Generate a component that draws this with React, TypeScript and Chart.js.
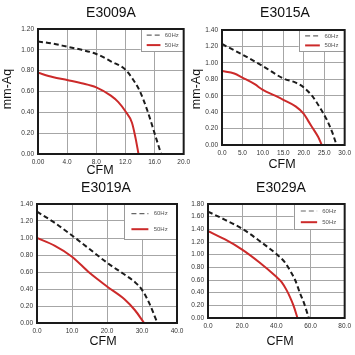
import React, { useEffect, useRef } from "react";
import { Chart, registerables } from "chart.js";

Chart.register(...registerables);

// ---------- data ----------
const E3009A_CFM_60 = [0, 2, 4, 6, 8, 10, 12, 13, 14, 15, 16, 16.9];
const E3009A_AQ_60 = [1.08, 1.06, 1.03, 1.0, 0.96, 0.89, 0.81, 0.72, 0.6, 0.42, 0.2, 0];
const E3009A_CFM_50 = [0, 2, 4, 6, 8, 10, 11, 12, 12.9, 13.4, 13.8];
const E3009A_AQ_50 = [0.78, 0.74, 0.71, 0.68, 0.64, 0.56, 0.5, 0.41, 0.3, 0.15, 0];
const E3009A_X_TICKS = ["0.00", "4.0", "8.0", "12.0", "16.0", "20.0"];
const E3009A_Y_TICKS = ["0.00", "0.20", "0.40", "0.60", "0.80", "1.00", "1.20"];

const E3015A_CFM_60 = [0, 5, 10, 15, 18, 20, 22, 24, 25.5, 27, 28];
const E3015A_AQ_60 = [1.23, 1.1, 0.96, 0.81, 0.76, 0.7, 0.6, 0.45, 0.32, 0.15, 0];
const E3015A_CFM_50 = [0, 3, 5, 8, 10, 13, 15, 18, 20, 21, 22, 23.5, 24.4];
const E3015A_AQ_50 = [0.9, 0.87, 0.82, 0.74, 0.67, 0.6, 0.55, 0.47, 0.38, 0.3, 0.22, 0.1, 0];
const E3015A_X_TICKS = ["0.0", "5.0", "10.0", "15.0", "20.0", "25.0", "30.0"];
const E3015A_Y_TICKS = ["0.00", "0.20", "0.40", "0.60", "0.80", "1.00", "1.20", "1.40"];

const E3019A_CFM_60 = [0, 5, 10, 15, 20, 25, 28, 30, 32, 34.4];
const E3019A_AQ_60 = [1.31, 1.18, 1.03, 0.87, 0.71, 0.57, 0.48, 0.39, 0.24, 0];
const E3019A_CFM_50 = [0, 5, 10, 15, 20, 25, 28, 30.6];
const E3019A_AQ_50 = [1.0, 0.91, 0.78, 0.59, 0.43, 0.28, 0.15, 0];
const E3019A_X_TICKS = ["0.0", "10.0", "20.0", "30.0", "40.0"];
const E3019A_Y_TICKS = ["0.00", "0.20", "0.40", "0.60", "0.80", "1.00", "1.20", "1.40"];

const E3029A_CFM_60 = [0, 10, 20, 30, 40, 45, 48, 51, 54, 56, 59];
const E3029A_AQ_60 = [1.68, 1.55, 1.41, 1.22, 1.01, 0.88, 0.75, 0.6, 0.38, 0.25, 0];
const E3029A_CFM_50 = [0, 10, 20, 30, 40, 43, 46, 48, 50, 52.4];
const E3029A_AQ_50 = [1.37, 1.24, 1.08, 0.88, 0.65, 0.57, 0.44, 0.33, 0.2, 0];
const E3029A_X_TICKS = ["0.0", "20.0", "40.0", "60.0", "80.0"];
const E3029A_Y_TICKS = ["0.00", "0.20", "0.40", "0.60", "0.80", "1.00", "1.20", "1.40", "1.60", "1.80"];

const SERIES_LABELS = ["60Hz", "50Hz"];
const X_TITLE = "CFM";
const Y_TITLE = "mm-Aq";

const FONT = '"Liberation Sans", Arial, sans-serif';

type Panel = {
  title: string;
  cfm60: number[]; aq60: number[]; cfm50: number[]; aq50: number[];
  xTicks: string[]; yTicks: string[];
  xMax: number; xStep: number; yMax: number; yStep: number;
  canvas: { x: number; y: number; w: number; h: number };
  area: { l: number; t: number; r: number; b: number };
  titlePos: [number, number];
  xTitlePos: [number, number];
  yTitlePos: [number, number] | null;
  legend: [number, number];
};

const PANELS: Panel[] = [
  {
    title: "E3009A",
    cfm60: E3009A_CFM_60, aq60: E3009A_AQ_60, cfm50: E3009A_CFM_50, aq50: E3009A_AQ_50,
    xTicks: E3009A_X_TICKS, yTicks: E3009A_Y_TICKS,
    xMax: 20, xStep: 4, yMax: 1.2, yStep: 0.2,
    canvas: { x: 0, y: 0, w: 194, h: 178 },
    area: { l: 38, t: 29, r: 186, b: 154 },
    titlePos: [111, 13], xTitlePos: [100, 171], yTitlePos: [8, 89], legend: [43, 23],
  },
  {
    title: "E3015A",
    cfm60: E3015A_CFM_60, aq60: E3015A_AQ_60, cfm50: E3015A_CFM_50, aq50: E3015A_AQ_50,
    xTicks: E3015A_X_TICKS, yTicks: E3015A_Y_TICKS,
    xMax: 30, xStep: 5, yMax: 1.4, yStep: 0.2,
    canvas: { x: 188, y: 0, w: 167, h: 178 },
    area: { l: 222, t: 30, r: 346, b: 145 },
    titlePos: [285, 13], xTitlePos: [282, 165], yTitlePos: [197, 89], legend: [46, 22],
  },
  {
    title: "E3019A",
    cfm60: E3019A_CFM_60, aq60: E3019A_AQ_60, cfm50: E3019A_CFM_50, aq50: E3019A_AQ_50,
    xTicks: E3019A_X_TICKS, yTicks: E3019A_Y_TICKS,
    xMax: 40, xStep: 10, yMax: 1.4, yStep: 0.2,
    canvas: { x: 0, y: 178, w: 190, h: 177 },
    area: { l: 37, t: 204, r: 177, b: 323 },
    titlePos: [106, 188], xTitlePos: [103, 342], yTitlePos: null, legend: [53, 36],
  },
  {
    title: "E3029A",
    cfm60: E3029A_CFM_60, aq60: E3029A_AQ_60, cfm50: E3029A_CFM_50, aq50: E3029A_AQ_50,
    xTicks: E3029A_X_TICKS, yTicks: E3029A_Y_TICKS,
    xMax: 80, xStep: 20, yMax: 1.8, yStep: 0.2,
    canvas: { x: 188, y: 178, w: 167, h: 177 },
    area: { l: 208, t: 204, r: 348, b: 318 },
    titlePos: [281, 188], xTitlePos: [280, 342], yTitlePos: null, legend: [51, 26],
  },
];

const COLOR_60 = "#1c1c1c";
const COLOR_50 = "#cc2a2a";
const GRID = "#a6a6a6";

const decor = {
  id: "decor",
  afterDatasetsDraw(chart: any, _args: any, opts: any) {
    const { ctx, chartArea: a } = chart;
    const ox = opts.ox, oy = opts.oy;
    ctx.save();
    const lw = opts.lw, lh = opts.lh;
    const bx = a.right - lw, by = a.top;
    ctx.fillStyle = "#fff";
    ctx.fillRect(bx, by, lw, lh);
    ctx.strokeStyle = "#9a9a9a";
    ctx.lineWidth = 1;
    ctx.strokeRect(Math.round(bx) + 0.5, by + 0.5, lw - 1, lh - 1);
    const rows = [by + lh * 0.27, by + lh * 0.7];
    const colors = [COLOR_60, COLOR_50];
    ctx.font = `6px ${FONT}`;
    ctx.textBaseline = "middle";
    ctx.textAlign = "left";
    rows.forEach((ry: number, i: number) => {
      ctx.beginPath();
      ctx.strokeStyle = i === 0 ? "#666" : colors[i];
      ctx.lineWidth = i === 0 ? 1.2 : 2;
      ctx.setLineDash(i === 0 ? [5, 3] : []);
      ctx.moveTo(bx + lw * 0.14, ry);
      ctx.lineTo(bx + lw * 0.46, ry);
      ctx.stroke();
      ctx.setLineDash([]);
      ctx.fillStyle = "#555";
      ctx.fillText(opts.labels[i], bx + lw * 0.56, ry);
    });
    ctx.strokeStyle = "#1a1a1a";
    ctx.lineWidth = 2;
    ctx.strokeRect(a.left, a.top, a.right - a.left, a.bottom - a.top);
    ctx.fillStyle = "#111";
    ctx.textAlign = "center";
    ctx.textBaseline = "middle";
    ctx.font = `14px ${FONT}`;
    ctx.fillText(opts.title, opts.tx - ox, opts.ty - oy);
    ctx.font = `12.5px ${FONT}`;
    ctx.fillText(opts.xTitle, opts.xx - ox, opts.xy - oy);
    if (opts.showY) {
      ctx.save();
      ctx.translate(opts.yx - ox, opts.yy - oy);
      ctx.rotate(-Math.PI / 2);
      ctx.fillText(opts.yTitle, 0, 0);
      ctx.restore();
    }
    ctx.restore();
  },
};

function PanelChart({ p }: { p: Panel }) {
  const ref = useRef<HTMLCanvasElement>(null);
  useEffect(() => {
    const yAxisW = p.area.l - p.canvas.x;
    const xAxisH = p.canvas.y + p.canvas.h - p.area.b;
    const tickFont = { size: 6.5, family: FONT };
    const chart = new Chart(ref.current as HTMLCanvasElement, {
      type: "line",
      data: {
        datasets: [
          {
            label: SERIES_LABELS[0],
            data: p.cfm60.map((x, i) => ({ x, y: p.aq60[i] })),
            borderColor: COLOR_60,
            borderWidth: 2,
            borderDash: [5, 3],
            pointRadius: 0,
            cubicInterpolationMode: "monotone",
            fill: false,
          },
          {
            label: SERIES_LABELS[1],
            data: p.cfm50.map((x, i) => ({ x, y: p.aq50[i] })),
            borderColor: COLOR_50,
            borderWidth: 2,
            pointRadius: 0,
            cubicInterpolationMode: "monotone",
            fill: false,
          },
        ],
      },
      options: {
        responsive: false,
        animation: false,
        events: [],
        layout: {
          padding: {
            top: p.area.t - p.canvas.y,
            right: p.canvas.x + p.canvas.w - p.area.r,
            left: 0,
            bottom: 0,
          },
        },
        plugins: {
          legend: { display: false },
          title: { display: false },
          tooltip: { enabled: false },
          decor: {
            ox: p.canvas.x, oy: p.canvas.y,
            lw: p.legend[0], lh: p.legend[1],
            labels: SERIES_LABELS,
            title: p.title, tx: p.titlePos[0], ty: p.titlePos[1],
            xTitle: X_TITLE, xx: p.xTitlePos[0], xy: p.xTitlePos[1],
            showY: !!p.yTitlePos, yTitle: Y_TITLE,
            yx: p.yTitlePos ? p.yTitlePos[0] : 0, yy: p.yTitlePos ? p.yTitlePos[1] : 0,
          },
        } as any,
        scales: {
          x: {
            type: "linear",
            min: 0,
            max: p.xMax,
            ticks: {
              stepSize: p.xStep,
              autoSkip: false,
              maxRotation: 0,
              padding: 4,
              color: "#333",
              font: tickFont,
              callback: (_v: any, i: number) => p.xTicks[i],
            },
            grid: { color: GRID, drawTicks: false, lineWidth: 1 },
            border: { display: false },
            afterFit: (s: any) => { s.height = xAxisH; },
          },
          y: {
            type: "linear",
            min: 0,
            max: p.yMax,
            ticks: {
              stepSize: p.yStep,
              autoSkip: false,
              padding: 4,
              color: "#333",
              font: tickFont,
              callback: (_v: any, i: number) => p.yTicks[i],
            },
            grid: { color: GRID, drawTicks: false, lineWidth: 1 },
            border: { display: false },
            afterFit: (s: any) => { s.width = yAxisW; },
          },
        },
      } as any,
      plugins: [decor],
    });
    return () => chart.destroy();
  }, [p]);
  return (
    <canvas
      ref={ref}
      width={p.canvas.w}
      height={p.canvas.h}
      style={{ position: "absolute", left: p.canvas.x, top: p.canvas.y, width: p.canvas.w, height: p.canvas.h }}
    />
  );
}

export default function App() {
  return (
    <div style={{ position: "absolute", left: 0, top: 0, width: 355, height: 355, background: "#fff" }}>
      {PANELS.map((p) => (
        <PanelChart key={p.title} p={p} />
      ))}
    </div>
  );
}
